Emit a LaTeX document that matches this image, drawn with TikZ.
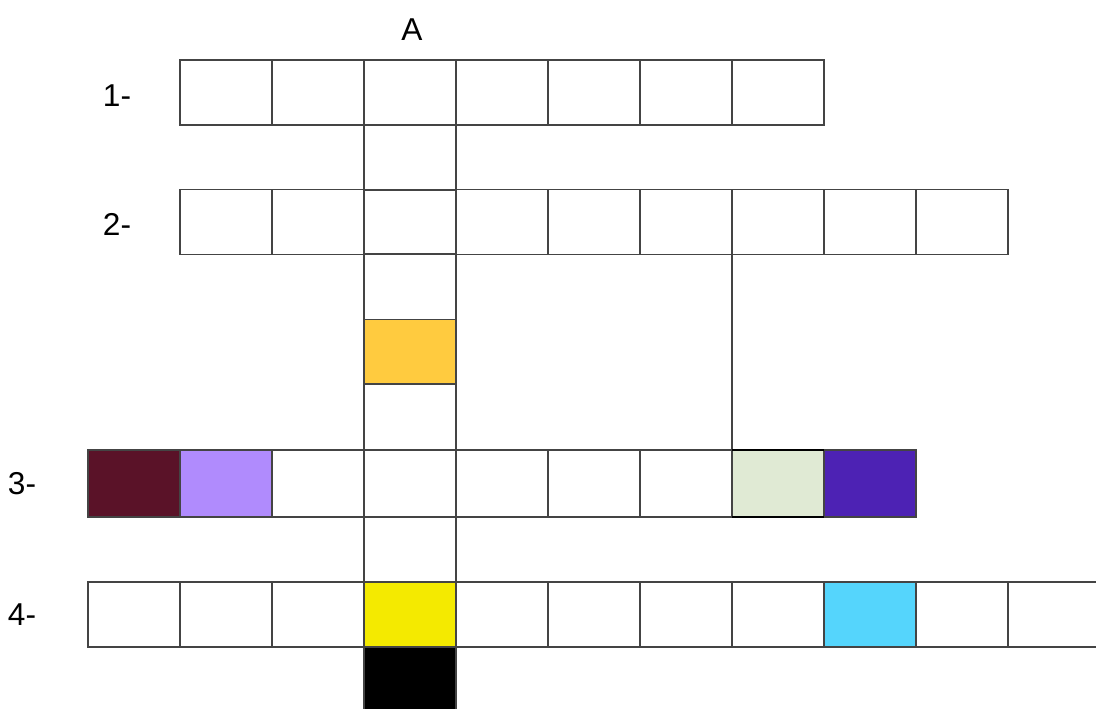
\documentclass[tikz,border=0pt]{standalone}
\usepackage{fontspec}
\setmainfont{Liberation Sans}
\usepackage{tikz}
\usetikzlibrary{positioning}
\definecolor{GridLine}{HTML}{444444}
\definecolor{CellMaroon}{HTML}{5A1228}
\definecolor{CellLilac}{HTML}{B08BFD}
\definecolor{CellSage}{HTML}{E0EAD4}
\definecolor{CellIndigo}{HTML}{4D22B4}
\definecolor{CellYellow}{HTML}{F4EA00}
\definecolor{CellSky}{HTML}{55D5FC}
\definecolor{CellAmber}{HTML}{FFCB3F}
\tikzset{
  gridlabel/.style={font=\fontsize{18}{21}\selectfont, text=black},
  cellbox/.style={draw=GridLine, line width=0.6pt, fill=white, minimum width=1.84cm, minimum height=1.3cm, inner sep=0pt, outer sep=0pt},
  gridline/.style={draw=GridLine, line width=0.6pt},
  boldedge/.style={draw=black, line width=1.1pt}
}

\begin{document}
\begin{tikzpicture}[x=0.02cm, y=-0.02cm, every node/.style={gridlabel}]
\useasboundingbox (0,0) rectangle (1096,708);
\clip (0,0) rectangle (1096,708);
% labels
\node (colA) at (412,30) {A};
\node (lab1) at (117,96) {1-};
\node (lab2) at (117,224) {2-};
\node (lab3) at (22,484) {3-};
\node (lab4) at (22,615) {4-};
% word 1
\foreach \k in {2,...,8}
  \node[cellbox] (r1c\k) at ({42+92*\k},92.5) {};
% word 2
\foreach \k in {2,...,10}
  \node[cellbox] (r2c\k) at ({42+92*\k},222) {};
% word 3
\foreach \k/\c in {1/CellMaroon,2/CellLilac,3/white,4/white,5/white,6/white,7/white,8/CellSage,9/CellIndigo}
  \node[cellbox, fill=\c, minimum height=1.34cm] (r3c\k) at ({42+92*\k},483.5) {};
% word 4
\foreach \k/\c in {1/white,2/white,3/white,4/CellYellow,5/white,6/white,7/white,8/white,9/CellSky,10/white,11/white}
  \node[cellbox, fill=\c] (r4c\k) at ({42+92*\k},614.5) {};
% column A
\node[cellbox] (a1) at (410,157.5) {};
\node[cellbox, minimum height=1.32cm] (a2) at (410,287) {};
\node[cellbox, fill=CellAmber] (a3) at (410,352) {};
\node[cellbox, minimum height=1.32cm] (a4) at (410,417) {};
\node[cellbox] (a5) at (410,549.5) {};
\node[cellbox, fill=black, minimum height=1.3cm] (a6) at (410,679.5) {};
% link
\draw[gridline] (r2c8.south west) -- (r3c8.north west);
\draw[boldedge] (r3c8.north west) -- (r3c8.north east);
\draw[boldedge] (r3c8.south west) -- (r3c8.south east);
\end{tikzpicture}
\end{document}
